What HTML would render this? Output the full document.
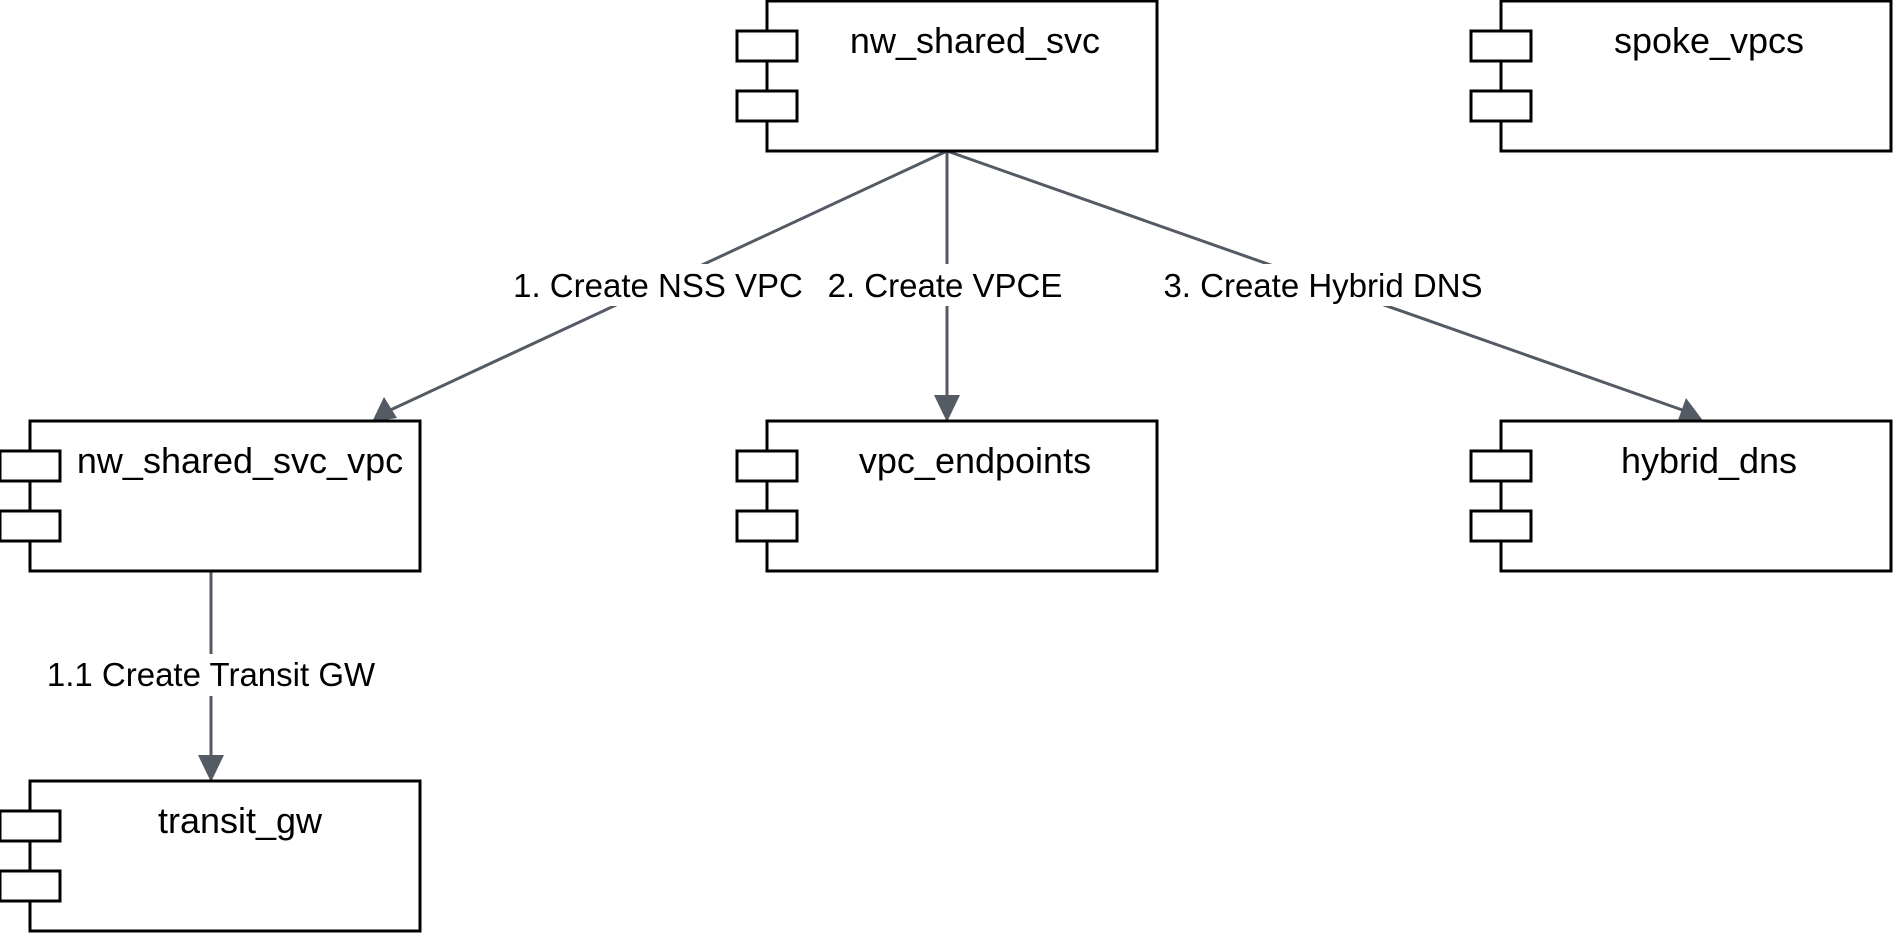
<!DOCTYPE html>
<html><head><meta charset="utf-8"><style>
html,body{margin:0;padding:0;background:#fff;}
svg{display:block;}
text{font-family:"Liberation Sans",Arial,sans-serif;fill:#000;}
.t{font-size:36px;}
.l{font-size:33px;}
</style></head><body>
<svg width="1893" height="933" viewBox="0 0 1893 933" xmlns="http://www.w3.org/2000/svg">
<defs>
<g id="comp">
<rect x="0" y="0" width="390" height="150" fill="#fff" stroke="#000" stroke-width="3"/>
<rect x="-30" y="30" width="60" height="30" fill="#fff" stroke="#000" stroke-width="3"/>
<rect x="-30" y="90" width="60" height="30" fill="#fff" stroke="#000" stroke-width="3"/>
</g>
</defs>
<g stroke="#545b64" stroke-width="3" fill="none">
<line x1="947" y1="151" x2="384" y2="413"/>
<line x1="947" y1="151" x2="947" y2="398"/>
<line x1="947" y1="151" x2="1688" y2="412"/>
<line x1="211" y1="571" x2="211" y2="758"/>
</g>
<g fill="#545b64">
<polygon points="372,422 384,397 397,418"/>
<polygon points="947,422 934,395 960,395"/>
<polygon points="1704,422 1677,423 1686,398"/>
<polygon points="211,782 198,755 224,755"/>
</g>
<use href="#comp" x="767" y="1"/>
<use href="#comp" x="1501" y="1"/>
<use href="#comp" x="30" y="421"/>
<use href="#comp" x="767" y="421"/>
<use href="#comp" x="1501" y="421"/>
<use href="#comp" x="30" y="781"/>
<g text-anchor="middle" class="t">
<text x="975" y="53">nw_shared_svc</text>
<text x="1709" y="53">spoke_vpcs</text>
<text x="240" y="473">nw_shared_svc_vpc</text>
<text x="975" y="473">vpc_endpoints</text>
<text x="1709" y="473">hybrid_dns</text>
<text x="240" y="833">transit_gw</text>
</g>
<g>
<rect x="500" y="264" width="316" height="42" fill="#fff"/>
<rect x="822" y="264" width="246" height="42" fill="#fff"/>
<rect x="1155" y="264" width="336" height="42" fill="#fff"/>
<rect x="40" y="654" width="342" height="42" fill="#fff"/>
</g>
<g text-anchor="middle" class="l">
<text x="658" y="297">1. Create NSS VPC</text>
<text x="945" y="297">2. Create VPCE</text>
<text x="1323" y="297">3. Create Hybrid DNS</text>
<text x="211" y="686">1.1 Create Transit GW</text>
</g>
</svg>
</body></html>
